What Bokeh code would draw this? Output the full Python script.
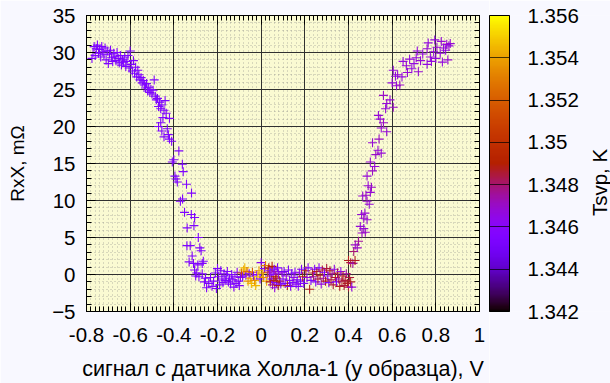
import math
from bokeh.plotting import figure
from bokeh.layouts import row
from bokeh.core.properties import value
from bokeh.models import (ColumnDataSource, Range1d, SingleIntervalTicker, FixedTicker,
                          LinearAxis, ColorBar, LinearColorMapper, CustomJSTickFormatter,
                          CustomLabelingPolicy)
from bokeh.embed import file_html
from bokeh.resources import INLINE

# ---------------- data ----------------
# left branch
x_left = [-0.775, -0.770, -0.765, -0.760, -0.755, -0.750, -0.745, -0.740, -0.735, -0.730,
          -0.725, -0.720, -0.715, -0.710, -0.705, -0.700, -0.695, -0.690, -0.685, -0.680,
          -0.675, -0.670, -0.665, -0.660, -0.655, -0.650, -0.645, -0.640, -0.635, -0.630,
          -0.625, -0.620, -0.615, -0.610, -0.600, -0.605, -0.595, -0.590, -0.585, -0.580,
          -0.575, -0.570, -0.565,
          -0.560, -0.555, -0.550, -0.545, -0.540, -0.535, -0.530, -0.525, -0.520, -0.515,
          -0.510, -0.505, -0.500, -0.495, -0.490, -0.485, -0.480, -0.475, -0.470, -0.465,
          -0.460, -0.455, -0.450, -0.445, -0.440, -0.470, -0.460, -0.455, -0.445, -0.430,
          -0.420, -0.410, -0.425, -0.435, -0.420,
          -0.377, -0.407, -0.400, -0.361, -0.357, -0.395, -0.390, -0.384, -0.342, -0.319,
          -0.370, -0.360, -0.351, -0.320, -0.305, -0.339, -0.308, -0.288, -0.340, -0.325,
          -0.281, -0.275, -0.316, -0.330, -0.310, -0.290, -0.270, -0.265, -0.305, -0.295,
          -0.285, -0.270, -0.255, -0.300]
y_left = [29.2, 30.0, 30.8, 29.6, 30.5, 31.0, 29.9, 30.4, 29.4, 30.8,
          30.1, 29.7, 30.6, 29.0, 30.2, 28.5, 29.8, 30.3, 29.3, 28.8,
          29.9, 29.5, 28.9, 30.0, 29.2, 28.6, 29.6, 28.3, 29.0, 28.7,
          29.4, 28.1, 28.8, 29.6, 30.2, 27.9, 28.4, 27.5, 28.9, 27.2,
          28.0, 26.7, 27.6,
          27.0, 26.3, 26.6, 25.9, 26.2, 25.6, 25.2, 25.8, 24.8, 25.3,
          24.6, 25.0, 24.4, 24.9, 26.3, 24.1, 23.6, 23.8, 22.7, 23.3,
          22.4, 22.9, 21.2, 22.2, 23.5, 20.0, 20.5, 19.4, 18.6, 19.7,
          18.3, 18.0, 18.9, 21.8, 21.1,
          16.7, 15.2, 15.5, 14.9, 13.9, 13.3, 12.9, 12.5, 12.2, 11.0,
          9.9, 10.2, 8.4, 8.1, 7.7, 6.3, 6.6, 5.0, 3.9, 3.9,
          3.6, 3.2, 2.5, 1.7, 1.5, 1.3, 1.5, 1.8, 0.6, 0.2,
          -0.3, 0.1, -0.5, -0.2]
t_left = [1.3455] * len(x_left)

# bottom (flat) region
x_bot = [-0.260, -0.250, -0.240, -0.232, -0.225, -0.218, -0.210, -0.205, -0.200, -0.195,
         -0.190, -0.185, -0.180, -0.175, -0.170, -0.165, -0.160, -0.155, -0.150, -0.145,
         -0.140, -0.135, -0.130, -0.125, -0.120, -0.115, -0.110, -0.105, -0.100, -0.095,
         -0.090, -0.085, -0.080, -0.075, -0.070, -0.065, -0.060, -0.055, -0.050, -0.045,
         -0.040, -0.035, -0.030, -0.025, -0.020, -0.015, -0.010, -0.005, 0.000, 0.005,
         0.010, 0.015, 0.020, 0.025, 0.030,
         0.035, 0.038, 0.040, 0.042, 0.045, 0.048, 0.050, 0.052, 0.055, 0.058,
         0.060, 0.062, 0.065, 0.068, 0.070, 0.072, 0.075, 0.078, 0.080, 0.085,
         0.090, 0.095,
         0.100, 0.105, 0.110, 0.115, 0.120, 0.125, 0.130, 0.135, 0.140, 0.145,
         0.150, 0.155, 0.160, 0.165, 0.170, 0.175, 0.180, 0.185, 0.190, 0.195,
         0.205, 0.210, 0.215, 0.222, 0.228, 0.235, 0.240, 0.245, 0.250, 0.255,
         0.260, 0.265, 0.270, 0.275, 0.280, 0.285, 0.290, 0.295, 0.300, 0.305,
         0.310, 0.315, 0.320, 0.325, 0.330, 0.335, 0.340, 0.345, 0.350, 0.355,
         0.360, 0.365, 0.370, 0.375, 0.380, 0.385, 0.390, 0.395, 0.400, 0.405,
         0.410, 0.415]
y_bot = [-1.0, -1.8, -1.2, -0.4, -1.6, -0.9, 0.2, -1.9, 0.8, -0.3,
         -1.4, 0.5, -0.6, -1.1, 0.1, -0.8, -0.2, 0.4, -1.0, -0.5,
         -1.3, 0.0, -0.7, -1.7, -0.3, -1.2, 0.3, -0.9, -1.5, -0.4,
         0.2, -0.3, 0.6, 0.9, -0.1, 0.4, -0.9, 0.1, -0.5, -1.2,
         0.3, -0.2, -0.8, -1.5, 0.0, -0.3, 0.5, -0.6, 1.6, 0.2,
         -0.4, 0.8, 1.2, -0.9, 0.3,
         0.9, -0.2, 0.5, -1.0, 0.2, -0.6, 1.1, -1.4, 0.0, -0.8,
         0.7, -1.8, -0.3, 0.4, -1.1, -0.5, 0.9, -1.5, 0.1, -0.9,
         -1.3, 0.3,
         -0.6, 0.4, -1.2, -0.2, -1.5, 0.6, -0.8, -1.6, 0.1, -1.1,
         -0.4, 0.3, -1.3, -0.7, -1.6, 0.2, -0.9, 0.7, -0.3, -1.2,
         0.5, -0.4, 0.9, -2.0, -0.8, 0.2, -0.3, 0.7, -1.0, 0.4,
         -0.6, 0.9, -0.1, -1.3, 0.6, -0.5, 0.3, -0.9, 0.8, -0.2,
         -1.1, 0.5, -0.7, 0.1, -1.4, 0.7, -0.4, -1.0, 0.2, -0.6,
         -1.6, 0.4, -0.9, -0.2, -1.5, -0.8, 0.1, -1.2, -1.7, -0.4,
         -1.0, -1.7]
t_bot = [1.3455, 1.3455, 1.3452, 1.3455, 1.3458, 1.3455, 1.3452, 1.3455, 1.3455, 1.3458,
         1.3455, 1.3452, 1.3455, 1.3455, 1.3458, 1.3455, 1.3452, 1.3455, 1.3455, 1.3458,
         1.3455, 1.3452, 1.3455, 1.3455, 1.3458, 1.3455, 1.3455, 1.3452, 1.3455, 1.3458,
         1.3515, 1.3455, 1.3540, 1.3545, 1.3458, 1.3525, 1.3535, 1.3455, 1.3540, 1.3545,
         1.3520, 1.3455, 1.3535, 1.3545, 1.3458, 1.3550, 1.3540, 1.3455, 1.3462, 1.3540,
         1.3535, 1.3458, 1.3530, 1.3540, 1.3515,
         1.3487, 1.3475, 1.3455, 1.3487, 1.3465, 1.3455, 1.3490, 1.3475, 1.3460, 1.3487,
         1.3455, 1.3465, 1.3495, 1.3470, 1.3455, 1.3485, 1.3455, 1.3487, 1.3465, 1.3490,
         1.3455, 1.3465,
         1.3455, 1.3450, 1.3455, 1.3465, 1.3487, 1.3455, 1.3460, 1.3455, 1.3450, 1.3455,
         1.3465, 1.3455, 1.3460, 1.3455, 1.3455, 1.3465, 1.3450, 1.3455, 1.3487, 1.3455,
         1.3487, 1.3465, 1.3455, 1.3487, 1.3455, 1.3485, 1.3475, 1.3460, 1.3455, 1.3487,
         1.3485, 1.3455, 1.3487, 1.3465, 1.3485, 1.3475, 1.3455, 1.3487, 1.3485, 1.3465,
         1.3455, 1.3487, 1.3485, 1.3475, 1.3485, 1.3465, 1.3487, 1.3455, 1.3485, 1.3475,
         1.3487, 1.3465, 1.3485, 1.3487, 1.3485, 1.3485, 1.3475, 1.3487, 1.3485, 1.3485,
         1.3487, 1.3465]

# right branch
x_right = [0.400, 0.410, 0.420, 0.430, 0.424, 0.431, 0.446, 0.440, 0.454, 0.462,
           0.470, 0.477, 0.460, 0.470, 0.485, 0.475, 0.485, 0.495, 0.465, 0.480,
           0.490, 0.500, 0.505, 0.485, 0.500, 0.510, 0.520, 0.510, 0.525, 0.535,
           0.550, 0.540, 0.537, 0.550, 0.560, 0.575, 0.545, 0.560, 0.575, 0.590,
           0.605, 0.570, 0.600, 0.620, 0.635, 0.605, 0.625, 0.645, 0.670, 0.615,
           0.650, 0.665, 0.680, 0.700, 0.720, 0.690, 0.710, 0.730, 0.715, 0.740,
           0.760, 0.775, 0.790, 0.805, 0.820, 0.835, 0.850, 0.765, 0.795, 0.825,
           0.845, 0.860, 0.866, 0.800, 0.780, 0.855, 0.830, 0.760]
y_right = [1.9, 1.6, 1.5, 1.9, 3.1, 4.0, 4.5, 3.6, 6.5, 5.6,
           6.2, 5.7, 8.1, 7.6, 7.4, 8.3, 9.9, 9.5, 10.6, 10.7,
           12.0, 11.1, 11.8, 13.3, 15.2, 14.0, 14.6, 17.8, 16.2, 16.8,
           16.4, 18.3, 21.5, 19.8, 20.5, 19.3, 21.0, 24.2, 23.1, 23.6,
           22.6, 22.4, 25.9, 25.5, 25.6, 27.6, 27.0, 26.7, 27.3, 26.8,
           28.8, 28.2, 29.1, 28.5, 27.4, 27.8, 29.3, 28.9, 30.2, 29.8,
           30.5, 29.4, 30.1, 30.7, 29.9, 30.6, 31.1, 31.3, 31.7, 31.5,
           30.3, 30.9, 31.2, 29.2, 28.8, 29.0, 28.7, 28.4]
t_right = [1.3487, 1.3485, 1.3475, 1.3487, 1.3480, 1.3470, 1.3475, 1.3470, 1.3468, 1.3470,
           1.3468, 1.3470, 1.3468, 1.3470, 1.3468, 1.3468, 1.3470, 1.3468, 1.3468, 1.3470,
           1.3468, 1.3468, 1.3470, 1.3468, 1.3468, 1.3470, 1.3468, 1.3468, 1.3470, 1.3468,
           1.3468, 1.3470, 1.3468, 1.3468, 1.3470, 1.3468, 1.3468, 1.3470, 1.3468, 1.3468,
           1.3470, 1.3468, 1.3466, 1.3468, 1.3470, 1.3466, 1.3468, 1.3466, 1.3468, 1.3466,
           1.3466, 1.3468, 1.3466, 1.3466, 1.3468, 1.3466, 1.3466, 1.3468, 1.3466, 1.3466,
           1.3468, 1.3466, 1.3466, 1.3468, 1.3466, 1.3466, 1.3468, 1.3466, 1.3466, 1.3468,
           1.3466, 1.3466, 1.3468, 1.3466, 1.3466, 1.3468, 1.3466, 1.3466]

cbar_ticks = [1.342, 1.344, 1.346, 1.348, 1.35, 1.352, 1.354, 1.356]
t_low, t_high = 1.342, 1.356
x_lo, x_hi = -0.8, 1.0
y_lo, y_hi = -5, 35

x_label = "сигнал с датчика Холла-1 (у образца), V"
y_label = "RxX, mΩ"
c_label = "Tsvp, K"

# ---------------- palette (gnuplot rgbformulae 7,5,15) ----------------
def _pal(n=256):
    out = []
    for i in range(n):
        f = i / (n - 1)
        r = math.sqrt(f)
        g = f ** 3
        b = max(0.0, min(1.0, math.sin(2 * math.pi * f)))
        out.append("#%02x%02x%02x" % (round(r * 255), round(g * 255), round(b * 255)))
    return out

palette = _pal()
mapper = LinearColorMapper(palette=palette, low=t_low, high=t_high)

src = ColumnDataSource(dict(x=x_left + x_bot + x_right,
                            y=y_left + y_bot + y_right,
                            t=t_left + t_bot + t_right))

FONT = "Liberation Sans"
TICK_FS = "20.5px"
XLAB_FS = "21.5px"
YLAB_FS = "19px"
CLAB_FS = "20.5px"
PAGE_BG = "#F8F8FF"

W_MAIN = 489
H = 383
B_TOP, B_BOT = 15, 72

p = figure(width=W_MAIN, height=H, output_backend="svg", toolbar_location=None,
           x_range=Range1d(x_lo, x_hi), y_range=Range1d(y_lo, y_hi),
           min_border_left=86, min_border_right=10, min_border_top=B_TOP, min_border_bottom=B_BOT)
p.background_fill_color = "#FAFAD2"
p.border_fill_color = PAGE_BG
p.outline_line_color = "black"
p.outline_line_width = 1

xt = SingleIntervalTicker(interval=0.2, num_minor_ticks=10)
yt = SingleIntervalTicker(interval=5, num_minor_ticks=5)
xfmt = CustomJSTickFormatter(code="return String(parseFloat(tick.toFixed(2)));")

for ax in (p.xaxis[0], p.yaxis[0]):
    ax.major_tick_in = 9
    ax.major_tick_out = 0
    ax.minor_tick_in = 5
    ax.minor_tick_out = 0
    ax.axis_line_color = "black"
    ax.major_tick_line_color = "black"
    ax.minor_tick_line_color = "black"
    ax.major_label_text_font = FONT
    ax.major_label_text_font_size = TICK_FS
    ax.major_label_text_color = "black"
    ax.axis_label_text_font = FONT
    ax.axis_label_text_font_style = "normal"
    ax.axis_label_text_color = "black"

p.xaxis[0].ticker = xt
p.xaxis[0].formatter = xfmt
p.yaxis[0].ticker = yt
p.xaxis[0].axis_label = x_label
p.yaxis[0].axis_label = y_label
p.xaxis[0].axis_label_text_font_size = XLAB_FS
p.yaxis[0].axis_label_text_font_size = YLAB_FS
p.xaxis[0].major_label_standoff = 16
p.xaxis[0].axis_label_standoff = 12
p.yaxis[0].major_label_standoff = 11
p.yaxis[0].axis_label_standoff = 21

# grids
p.xgrid.ticker = xt
p.ygrid.ticker = yt
for g in (p.xgrid[0], p.ygrid[0]):
    g.grid_line_color = "#303030"
    g.grid_line_width = 1
    g.minor_grid_line_color = "#808080"
    g.minor_grid_line_dash = "1 3"
    g.minor_grid_line_alpha = 0.55

# mirror axes (ticks only, labels filtered out)
hide_all = CustomLabelingPolicy(code="for (const i of indices) { indices.unset(i) } return indices")
for loc, tk in (("above", xt), ("right", yt)):
    ax = LinearAxis(ticker=tk, major_tick_in=9, major_tick_out=0, minor_tick_in=5, minor_tick_out=0,
                    major_label_text_font_size="1px", major_label_standoff=0,
                    major_label_policy=hide_all,
                    axis_line_color="black", major_tick_line_color="black", minor_tick_line_color="black")
    p.add_layout(ax, loc)

p.scatter("x", "y", source=src, marker="cross", size=9, line_width=1.1,
          line_color={"field": "t", "transform": mapper})

# ---------------- colour bar panel ----------------
W_CB = 610 - W_MAIN
FRAME_H = H - B_TOP - B_BOT
pc = figure(width=W_CB, height=H, output_backend="svg", toolbar_location=None,
            x_range=Range1d(0, W_CB), y_range=Range1d(0, FRAME_H),
            x_axis_location=None, y_axis_location=None,
            min_border_left=0, min_border_right=0, min_border_top=B_TOP, min_border_bottom=B_BOT)
pc.grid.visible = False
pc.outline_line_color = None
pc.background_fill_color = PAGE_BG
pc.border_fill_color = PAGE_BG

cb = ColorBar(color_mapper=mapper, width=20, height=FRAME_H, location="top_left",
              ticker=FixedTicker(ticks=cbar_ticks),
              formatter=CustomJSTickFormatter(code="return String(parseFloat(tick.toFixed(3)));"),
              major_label_text_font=FONT, major_label_text_font_size=TICK_FS,
              major_label_text_color="black", label_standoff=18,
              major_tick_in=20, major_tick_out=0, major_tick_line_color="black",
              major_tick_line_alpha=0.7, minor_tick_line_color=None,
              bar_line_color="black", bar_line_width=1,
              padding=0, margin=0, background_fill_color=None, border_line_color=None)
pc.add_layout(cb, "center")

pc.text(x=[W_CB - 11], y=[FRAME_H / 2 - 19], text=[c_label], angle=math.pi / 2,
        text_align="center", text_baseline="middle",
        text_font=value(FONT), text_font_size=CLAB_FS, text_color="black")

layout = row(p, pc, spacing=0)
open("out.html", "w").write(file_html(layout, INLINE))
